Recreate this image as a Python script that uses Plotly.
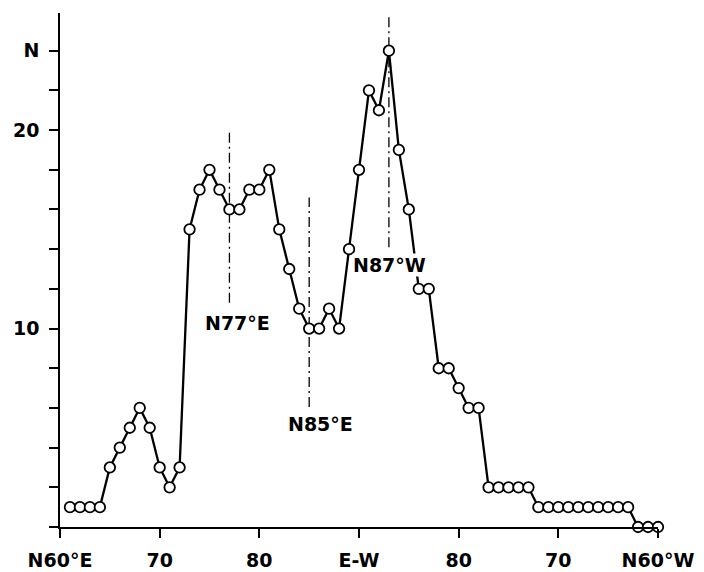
import plotly.graph_objects as go

# Azimuth in degrees: 60..90 = N60°E..E-W, 90..120 = E-W..N60°W
azimuth = list(range(61, 121))
counts = [1, 1, 1, 1, 3, 4, 5, 6, 5, 3, 2, 3,          # 61-72
          15, 17, 18, 17, 16, 16, 17, 17, 18, 15,      # 73-82
          13, 11, 10, 10, 11, 10, 14, 18,              # 83-90
          22, 21, 24, 19, 16, 12, 12, 8, 8, 7,         # 91-100
          6, 6, 2, 2, 2, 2, 2,                         # 101-107
          1, 1, 1, 1, 1, 1, 1, 1, 1, 1,                # 108-117
          0, 0, 0]                                     # 118-120

x_tick_vals = [60, 70, 80, 90, 100, 110, 120]
x_tick_text = ["N60°E", "70", "80", "E-W", "80", "70", "N60°W"]
y_tick_vals = list(range(0, 26, 2))
y_tick_text = ["", "", "", "", "", "10", "", "", "", "", "20", "", "N"]

ref_names = ["N77°E", "N85°E", "N87°W"]
ref_azimuth = [77, 85, 93]
ref_low = [11.3, 6.05, 14.1]
ref_high = [20.0, 16.6, 25.7]

FONT = "DejaVu Sans"

def font(size=20):
    return dict(family=FONT, size=size, color="black", weight="bold")

fig = go.Figure()

for name, az, lo, hi in zip(ref_names, ref_azimuth, ref_low, ref_high):
    fig.add_trace(go.Scatter(
        x=[az, az], y=[lo, hi], mode="lines",
        line=dict(color="black", width=1.3, dash="10px,4px,2px,4px"),
        hoverinfo="skip", showlegend=False, cliponaxis=False))

fig.add_trace(go.Scatter(
    x=azimuth, y=counts, mode="lines+markers",
    line=dict(color="black", width=2.3),
    marker=dict(symbol="circle", size=10.5, color="white",
                line=dict(color="black", width=1.8)),
    showlegend=False, cliponaxis=False))

label_pos = {"N77°E": (77.8, 10.3), "N85°E": (86.1, 5.2), "N87°W": (93.1, 13.2)}
for name in ref_names:
    lx, ly = label_pos[name]
    fig.add_annotation(x=lx, y=ly, text=name, showarrow=False,
                       font=font(19), bgcolor="white", borderpad=0)

# The page body adds an 8px offset; margins compensate for it.
fig.update_layout(
    width=704, height=572,
    margin=dict(l=52, r=54, t=5, b=53),
    paper_bgcolor="white", plot_bgcolor="white",
    font=font(),
    xaxis=dict(range=[60, 120], tickvals=x_tick_vals, ticktext=x_tick_text,
               automargin=False,
               showgrid=False, zeroline=False, showline=True,
               linecolor="black", linewidth=1.6,
               ticks="outside", ticklen=9, tickwidth=1.6, tickcolor="black",
               ticklabelstandoff=6,
               tickfont=font(19)),
    yaxis=dict(range=[0, 25.9], tickvals=y_tick_vals, ticktext=y_tick_text,
               automargin=False,
               showgrid=False, zeroline=False, showline=True,
               linecolor="black", linewidth=1.6,
               ticks="outside", ticklen=9, tickwidth=1.6, tickcolor="black",
               ticklabelstandoff=6,
               tickfont=font(19)),
)

fig.write_html("out.html")
